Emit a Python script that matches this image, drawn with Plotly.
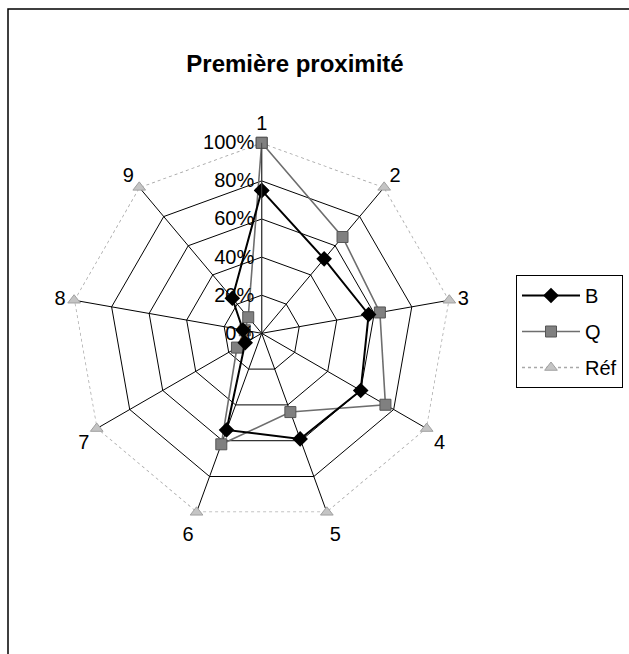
import plotly.graph_objects as go

# Axes of the radar and the three series (fractions of 100%)
axes = ["1", "2", "3", "4", "5", "6", "7", "8", "9"]
b_vals = [0.75, 0.51, 0.57, 0.60, 0.59, 0.54, 0.10, 0.10, 0.24]
q_vals = [1.00, 0.66, 0.63, 0.75, 0.44, 0.62, 0.15, 0.09, 0.11]
ref_vals = [1.00, 1.00, 1.00, 1.00, 1.00, 1.00, 1.00, 1.00, 1.00]
radial_ticks = [0, 0.2, 0.4, 0.6, 0.8, 1.0]
radial_labels = ["0%", "20%", "40%", "60%", "80%", "100%"]

W, H = 629, 654
FONT = "Liberation Sans, Arial, sans-serif"


def closed(vals):
    return list(vals) + [vals[0]]


theta = closed(axes)

fig = go.Figure()

fig.add_trace(go.Scatterpolar(
    r=closed(ref_vals), theta=theta, name="Réf", mode="lines+markers",
    line=dict(color="#a8a8a8", width=1.5, dash="dot"),
    marker=dict(symbol="triangle-up", size=11, color="#c4c4c4",
                line=dict(color="#a0a0a0", width=1)),
    legendgroup="ref", legendrank=3,
))
fig.add_trace(go.Scatterpolar(
    r=closed(q_vals), theta=theta, name="Q", mode="lines+markers",
    line=dict(color="#6e6e6e", width=1.6),
    marker=dict(symbol="square", size=11, color="#808080",
                line=dict(color="#555555", width=1)),
    legendgroup="q", legendrank=2,
))
fig.add_trace(go.Scatterpolar(
    r=closed(b_vals), theta=theta, name="B", mode="lines+markers",
    line=dict(color="black", width=2),
    marker=dict(symbol="diamond", size=12, color="black"),
    legendgroup="b", legendrank=1,
))

cx, cy, R = 261.7, 333.3, 190.5

fig.update_layout(
    width=W, height=H,
    margin=dict(l=0, r=0, t=0, b=0),
    paper_bgcolor="white",
    font=dict(family=FONT, size=20, color="black"),
    title=dict(text="<b>Première proximité</b>", x=295 / W, xanchor="center",
               y=1 - 64 / H, yanchor="middle", yref="paper",
               font=dict(family=FONT, size=24, color="black")),
    polar=dict(
        domain=dict(x=[(cx - R) / W, (cx + R) / W],
                    y=[1 - (cy + R) / H, 1 - (cy - R) / H]),
        gridshape="linear",
        bgcolor="white",
        angularaxis=dict(
            type="category", direction="clockwise", rotation=90,
            showline=False, showgrid=True, gridcolor="black", gridwidth=1,
            ticks="outside", ticklen=4, tickcolor="rgba(0,0,0,0)",
            tickfont=dict(size=20, family=FONT, color="black"),
        ),
        radialaxis=dict(
            range=[0, 1], angle=90, side="counterclockwise",
            tickvals=radial_ticks, ticktext=radial_labels, tickangle=90,
            showline=True, linecolor="#444444", linewidth=1,
            showgrid=True, gridcolor="black", gridwidth=1,
            ticks="", tickfont=dict(size=20, family=FONT, color="black"),
        ),
    ),
    showlegend=True,
    legend=dict(
        x=516 / W, y=1 - 275 / H, xanchor="left", yanchor="top",
        bordercolor="black", borderwidth=1, bgcolor="white",
        traceorder="grouped", tracegroupgap=7, itemwidth=58,
        font=dict(family=FONT, size=20, color="black"),
    ),
    shapes=[dict(type="rect", xref="paper", yref="paper",
                 x0=8 / W, x1=1.05, y0=-0.05, y1=1 - 9 / H,
                 line=dict(color="black", width=1.5), layer="below")],
)

fig.write_html("out.html")
